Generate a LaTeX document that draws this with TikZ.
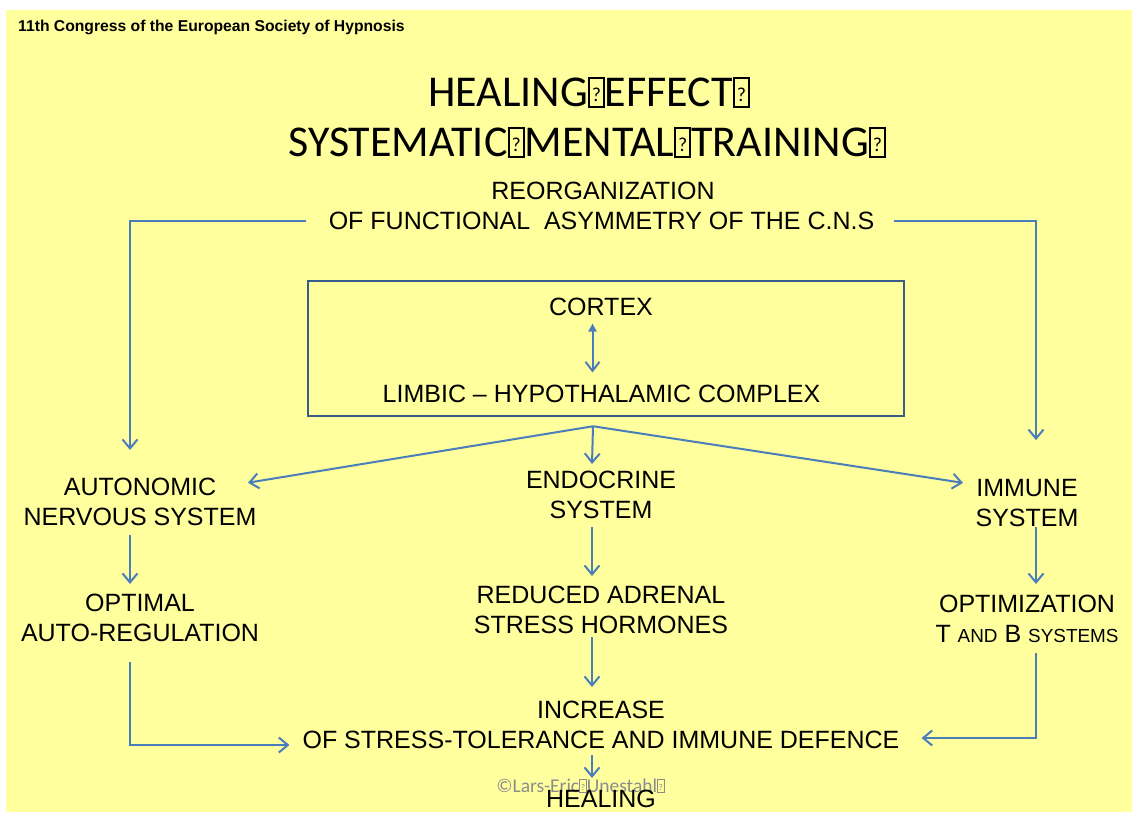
\documentclass[tikz,border=0pt]{standalone}
\usepackage{fontspec}
\setmainfont{Liberation Sans}
\newfontfamily\carl{Carlito}
\usetikzlibrary{arrows.meta,calc}
\definecolor{bgyellow}{RGB}{255,255,158}
\definecolor{arrowblue}{RGB}{74,126,187}
\definecolor{boxblue}{RGB}{56,93,138}
\definecolor{copygray}{RGB}{140,140,140}
\newcommand\mgbox{\begingroup\setlength{\fboxsep}{0pt}\setlength{\fboxrule}{0.045em}\fbox{\makebox[0.3em]{\rule{0pt}{0.62em}\raisebox{0.1em}{\scalebox{0.45}{?}}}}\endgroup}
\newcommand\smc[1]{{\fontsize{18.9}{30}\selectfont #1}}
\begin{document}
\begin{tikzpicture}[x=1pt,y=-1pt,
  txt/.style={font=\fontsize{25}{30}\selectfont, align=center, inner sep=0pt, text=black},
  conn/.style={draw=arrowblue, line width=2pt, -{Straight Barb[length=9pt,width=15pt]}}]
\useasboundingbox (0,0) rectangle (1132,812);
\fill[white] (0,0) rectangle (1132,812);
\fill[bgyellow] (6,10) rectangle (1132,812);
% header and title
\node[anchor=base west, inner sep=0pt, font=\fontsize{15.7}{18}\selectfont\bfseries] (hdr) at (18,31.7) {11th Congress of the European Society of Hypnosis};
\node[anchor=base west, inner sep=0pt, font=\carl\fontsize{44}{50}\selectfont] (t1) at (428,106) {HEALING\mgbox EFFECT\mgbox};
\node[anchor=base west, inner sep=0pt, font=\carl\fontsize{44}{50}\selectfont] (t2) at (288,156) {SYSTEMATIC\mgbox MENTAL\mgbox TRAINING\mgbox};
% texts
\node[txt] (reorg1) at (603,191) {REORGANIZATION};
\node[txt] (reorg2) at (601.5,221) {OF FUNCTIONAL\ \ ASYMMETRY OF THE C.N.S};
\node[draw=boxblue, line width=2.5pt, minimum width=596pt, minimum height=135pt, inner sep=0pt] (hbox) at (606,348.5) {};
\node[txt] (cortex) at (601,306.5) {CORTEX};
\node[txt] (limbic) at (601.5,393.5) {LIMBIC -- HYPOTHALAMIC COMPLEX};
\node[txt] (ans) at (140,502) {AUTONOMIC\\NERVOUS SYSTEM};
\node[txt] (endo) at (601,495) {ENDOCRINE\\SYSTEM};
\node[txt] (imm) at (1027,503) {IMMUNE\\SYSTEM};
\node[txt] (opt) at (140,618) {OPTIMAL\\AUTO-REGULATION};
\node[txt] (red) at (601,610) {REDUCED ADRENAL\\STRESS HORMONES};
\node[txt] (optz) at (1027,619) {OPTIMIZATION\\T \smc{AND} B \smc{SYSTEMS}};
\node[txt] (inc) at (601,725) {INCREASE\\OF STRESS-TOLERANCE AND IMMUNE DEFENCE};
\node[inner sep=0pt, text=copygray, font=\carl\fontsize{19.5}{22}\selectfont] (copy) at (580.5,786) {©Lars-Eric\mgbox Unestahl\mgbox};
\node[txt] (heal) at (601,799) {HEALING};
% connectors
\draw[conn] ([xshift=-23pt]reorg2.west) -| ([xshift=-10pt,yshift=28pt]ans.north);
\draw[conn] ([xshift=20pt]reorg2.east) -| ([xshift=9pt,yshift=39pt]imm.north);
\draw[draw=arrowblue, line width=2pt, {Triangle[length=8pt,width=8pt]}-{Straight Barb[length=9pt,width=14pt]}]
  ([xshift=-8.5pt,yshift=-8pt]cortex.south) -- ([xshift=-9pt,yshift=12pt]limbic.north);
\coordinate (fan) at ([xshift=-13pt,yshift=-9pt]hbox.south);
\draw[conn] (fan) -- ([xshift=108pt,yshift=-4.75pt]ans.north);
\draw[conn] (fan) -- ([xshift=-9pt,yshift=7pt]endo.north);
\draw[conn] (fan) -- ([xshift=-64pt,yshift=-3.75pt]imm.north);
\draw[conn] ([xshift=-10pt,yshift=-9pt]ans.south) -- ([xshift=-10pt,yshift=10pt]opt.north);
\draw[conn] ([xshift=-9pt,yshift=-8pt]endo.south) -- ([xshift=-9pt,yshift=10pt]red.north);
\draw[conn] ([xshift=9pt]imm.south) -- ([xshift=9pt,yshift=11pt]optz.north);
\draw[conn] ([xshift=-9pt,yshift=-3pt]red.south) -- ([xshift=-9pt,yshift=14pt]inc.north);
\draw[conn] ([xshift=-10pt,yshift=-20pt]opt.south) |- ([xshift=-13pt,yshift=-20pt]inc.west);
\draw[conn] ([xshift=9pt,yshift=-10pt]optz.south) |- ([xshift=22pt,yshift=-13pt]inc.east);
\draw[conn] ([xshift=-9pt,yshift=-6pt]inc.south) -- ([xshift=-9pt,yshift=12pt]heal.north);
\end{tikzpicture}
\end{document}
